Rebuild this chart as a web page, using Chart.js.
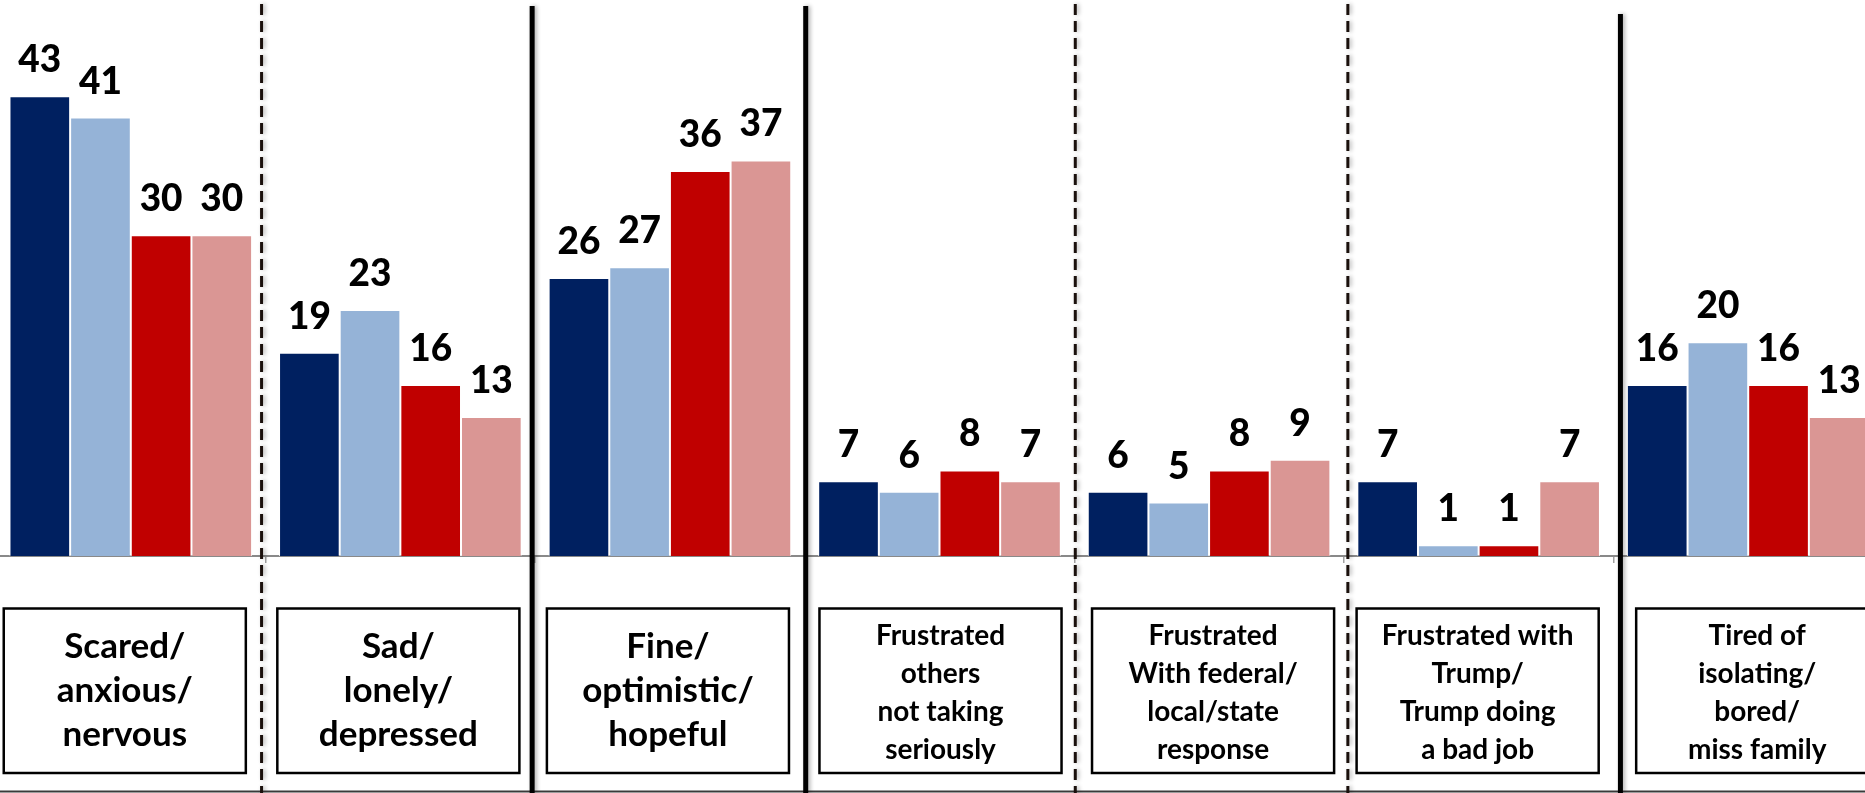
<!DOCTYPE html>
<html>
<head>
<meta charset="utf-8">
<title>How people feel</title>
<script src="https://cdn.jsdelivr.net/npm/chart.js@4.4.1/dist/chart.umd.min.js"></script>
<style>
html,body{margin:0;padding:0;background:#fff;overflow:hidden}
#wrap{position:absolute;left:-4px;top:0;width:1887px;height:793px}
</style>
</head>
<body>
<div id="wrap"><canvas id="chart"></canvas></div>
<script>

// categories, one label box each (lines as shown in the boxes)
let categories = [
["Scared/","anxious/","nervous"],
["Sad/","lonely/","depressed"],
["Fine/","optimistic/","hopeful"],
["Frustrated","others","not taking","seriously"],
["Frustrated","With federal/","local/state","response"],
["Frustrated with","Trump/","Trump doing","a bad job"],
["Tired of","isolating/","bored/","miss family"]
]

let seriesNames = ["Series 1","Series 2","Series 3","Series 4"]

let series1 = [43,19,26,7,6,7,16]
let series2 = [41,23,27,6,5,1,20]
let series3 = [30,16,36,8,8,1,16]
let series4 = [30,13,37,7,9,7,13]

let colors = ["#002060","#95B3D7","#C00000","#DA9694"]

let FONT = "Lato, 'Open Sans', sans-serif"

// value labels, label boxes, separator lines
const decor = {
id:"decor",
afterDatasetsDraw(chart){
let ctx = chart.ctx
ctx.save()
ctx.font = "900 37px " + FONT
ctx.fillStyle = "#000"
ctx.textAlign = "center"
ctx.textBaseline = "alphabetic"
chart.data.datasets.forEach((ds,i)=>{
chart.getDatasetMeta(i).data.forEach((bar,j)=>{
ctx.fillText(ds.data[j], bar.x, bar.y - 24)
})
})
ctx.restore()
},
afterDraw(chart,args,opts){
let ctx = chart.ctx
let x = chart.scales.x
let step = x.getPixelForValue(1) - x.getPixelForValue(0)

ctx.save()

// boxes under the axis
categories.forEach((lines,i)=>{
let cx = x.getPixelForValue(i) + opts.boxShift[i]
let w = step*0.898
ctx.lineWidth = 2.5
ctx.strokeStyle = "#000"
ctx.strokeRect(cx - w/2, 608.5, w, 164.5)

let four = lines.length > 3
let lh = four ? 38.3 : 44
ctx.font = "bold " + (four ? 28 : 35) + "px " + FONT
ctx.fillStyle = "#000"
ctx.textAlign = "center"
ctx.textBaseline = "alphabetic"
lines.forEach((t,k)=>{
ctx.fillText(t, cx, 702 + (k - (lines.length-1)/2)*lh)
})
})

// bottom edge of the slide
ctx.strokeStyle = "#3a3a3a"
ctx.lineWidth = 2
ctx.beginPath()
ctx.moveTo(0,791.5)
ctx.lineTo(chart.width,791.5)
ctx.stroke()

// separators between categories
opts.sepStyle.forEach((s,i)=>{
let sx = x.getPixelForValue(i) + step/2 + opts.sepShift[i]
ctx.save()
ctx.shadowColor = "rgba(0,0,0,0.3)"
ctx.shadowBlur = 4
ctx.shadowOffsetX = 2
ctx.beginPath()
if(s === "dash"){
ctx.strokeStyle = "#1a100c"
ctx.lineWidth = 3
ctx.setLineDash([11,6])
ctx.moveTo(sx,4)
}else{
ctx.strokeStyle = "#000"
ctx.lineWidth = 5
ctx.moveTo(sx,opts.sepTop[i])
}
ctx.lineTo(sx,793)
ctx.stroke()
ctx.restore()
})

ctx.restore()
}
}

let datasets = [series1,series2,series3,series4].map((d,i)=>({
label:seriesNames[i],
data:d,
backgroundColor:colors[i],
borderColor:"rgba(255,255,255,0.85)",
borderWidth:1,
borderSkipped:"bottom"
}))

new Chart(document.getElementById("chart"),{
type:"bar",
data:{
labels:categories,
datasets:datasets
},
options:{
responsive:true,
maintainAspectRatio:false,
animation:false,
layout:{padding:{left:0,right:0,top:0,bottom:230}},
datasets:{bar:{barPercentage:1,categoryPercentage:0.9}},
plugins:{
legend:{display:false},
tooltip:{enabled:false},
decor:{
boxShift:[-6,-2,-2,1,4,-1,9],
sepStyle:["dash","solid","solid","dash","dash","solid"],
sepShift:[-4,-3,1,1,4,7],
sepTop:[4,6,6,4,4,14]
}
},
scales:{
x:{
grid:{display:true,drawOnChartArea:false,drawTicks:true,tickLength:7,color:"#a0a0a0",lineWidth:1.5},
border:{display:true,color:"#898989",width:2},
ticks:{display:false}
},
y:{
display:false,
min:0,
max:52
}
}
},
plugins:[decor]
})

</script>
</body>
</html>
